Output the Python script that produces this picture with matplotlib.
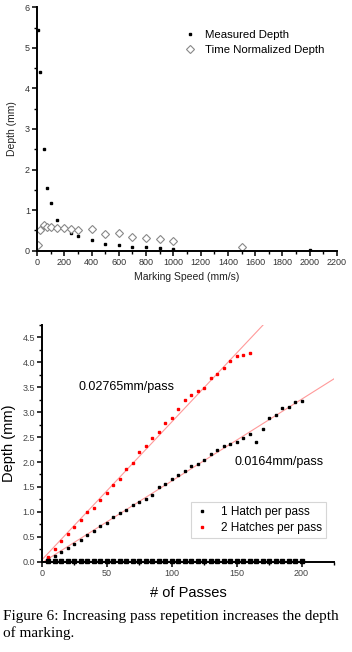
import numpy as np
import matplotlib
matplotlib.use("Agg")
import matplotlib.pyplot as plt
from matplotlib.ticker import MultipleLocator, FormatStrFormatter

# top panel: depth vs marking speed
speed = [10, 25, 50, 75, 100, 150, 200, 250, 300, 400, 500, 600, 700, 800, 900, 1000, 1500, 2000]
measured = [5.44, 4.40, 2.50, 1.55, 1.18, 0.75, 0.58, 0.44, 0.35, 0.27, 0.16, 0.14, 0.09, 0.08, 0.06, 0.04, 0.01, 0.01]
speed_norm = [10, 25, 50, 75, 100, 150, 200, 250, 300, 400, 500, 600, 700, 800, 900, 1000, 1500]
normalized = [0.14, 0.52, 0.62, 0.57, 0.58, 0.55, 0.56, 0.53, 0.52, 0.53, 0.41, 0.44, 0.33, 0.32, 0.28, 0.24, 0.08]

# bottom panel: depth vs number of passes
passes_1 = list(range(5, 205, 5))
depth_1 = [0.08, 0.12, 0.19, 0.28, 0.36, 0.44, 0.54, 0.62, 0.71, 0.77,
           0.89, 0.97, 1.04, 1.14, 1.20, 1.26, 1.34, 1.49, 1.55, 1.66,
           1.74, 1.83, 1.93, 1.97, 2.05, 2.16, 2.24, 2.32, 2.36, 2.40,
           2.49, 2.57, 2.41, 2.67, 2.88, 2.94, 3.08, 3.11, 3.20, 3.23]
passes_2 = list(range(5, 165, 5))
depth_2 = [0.09, 0.25, 0.42, 0.56, 0.69, 0.83, 0.99, 1.08, 1.24, 1.38,
           1.53, 1.66, 1.87, 1.98, 2.20, 2.32, 2.48, 2.60, 2.79, 2.89,
           3.07, 3.25, 3.35, 3.42, 3.49, 3.69, 3.76, 3.88, 4.02, 4.12,
           4.15, 4.18]
baseline_passes = list(range(5, 205, 5))
baseline_depth = [0.02] * len(baseline_passes)
fit_1 = (0.0164, -0.02)
fit_2 = (0.02765, 0.04)

W, H = 352, 652
fig = plt.figure(figsize=(W / 100, H / 100), dpi=100)
plt.rcParams["font.family"] = ["Liberation Sans", "DejaVu Sans"]


def px_axes(l, t, r, b):
    return fig.add_axes([l / W, 1 - b / H, (r - l) / W, (b - t) / H])


def style(ax, lw, tick_size, tick_col):
    for s in ("top", "right"):
        ax.spines[s].set_visible(False)
    for s in ("left", "bottom"):
        ax.spines[s].set_linewidth(lw)
    ax.tick_params(which="major", direction="out", length=3.5, width=1.1,
                   labelsize=tick_size, labelcolor=tick_col, pad=1.5)
    ax.tick_params(which="minor", direction="out", length=2, width=1.0)


# ---- top chart
ax1 = px_axes(37, 7.3, 337, 250.6)
ax1.plot(speed, measured, "s", ms=2.0, color="black", label="Measured Depth")
ax1.plot(speed_norm, normalized, "D", ms=4, mfc="white", mec="#888888", mew=0.8,
         label="Time Normalized Depth")
ax1.set_xlim(0, 2200)
ax1.set_ylim(0, 6)
ax1.xaxis.set_major_locator(MultipleLocator(200))
ax1.xaxis.set_minor_locator(MultipleLocator(100))
ax1.yaxis.set_major_locator(MultipleLocator(1))
ax1.yaxis.set_minor_locator(MultipleLocator(0.5))
style(ax1, 1.4, 6.5, "#333333")
ax1.set_xlabel("Marking Speed (mm/s)", fontsize=7.5, color="#222222", labelpad=4)
ax1.set_ylabel("Depth (mm)", fontsize=7.5, color="#222222", labelpad=6)
ax1.legend(loc="upper left", bbox_to_anchor=(0.48, 0.925), frameon=False,
           fontsize=8.2, handlelength=0.8, handletextpad=0.9,
           labelspacing=0.45, borderaxespad=0)

# ---- bottom chart
ax2 = px_axes(42, 325, 334, 561.7)
xs = np.array([0, 225])
for slope, icpt in (fit_1, fit_2):
    ax2.plot(xs, slope * xs + icpt, color="#ff9a9a", lw=0.8, zorder=1)
ax2.plot(baseline_passes, baseline_depth, "s", ms=3.2, color="black",
         clip_on=False, zorder=3)
ax2.plot(passes_1, depth_1, "s", ms=1.5, color="black", ls="none",
         label="1 Hatch per pass", zorder=2)
ax2.plot(passes_2, depth_2, "s", ms=1.5, color="red", ls="none",
         label="2 Hatches per pass", zorder=2)
ax2.set_xlim(0, 225)
ax2.set_ylim(0, 4.75)
ax2.xaxis.set_major_locator(MultipleLocator(50))
ax2.xaxis.set_minor_locator(MultipleLocator(25))
ax2.yaxis.set_major_locator(MultipleLocator(0.5))
ax2.yaxis.set_minor_locator(MultipleLocator(0.25))
ax2.yaxis.set_major_formatter(FormatStrFormatter("%.1f"))
style(ax2, 1.4, 6.5, "#444444")
ax2.set_xlabel("# of Passes", fontsize=10.5, labelpad=6)
ax2.set_ylabel("Depth (mm)", fontsize=10.5, labelpad=5)
ax2.text(28, 3.5, "0.02765mm/pass", fontsize=9, va="center")
ax2.text(148, 2.0, "0.0164mm/pass", fontsize=9, va="center")
leg2 = ax2.legend(loc="upper left", bbox_to_anchor=(0.51, 0.252), fontsize=8.5,
                  handlelength=1.2, handletextpad=1.0, labelspacing=0.3,
                  fancybox=False, edgecolor="#cccccc", borderaxespad=0,
                  borderpad=0.35)
leg2.get_frame().set_linewidth(0.8)

fig.text(3 / W, 1 - 610 / H,
         "Figure 6: Increasing pass repetition increases the depth\nof marking.",
         family=["Liberation Serif", "DejaVu Serif"], fontsize=11,
         va="top", ha="left", linespacing=1.3)

fig.savefig("out.png", dpi=100, facecolor="white")
